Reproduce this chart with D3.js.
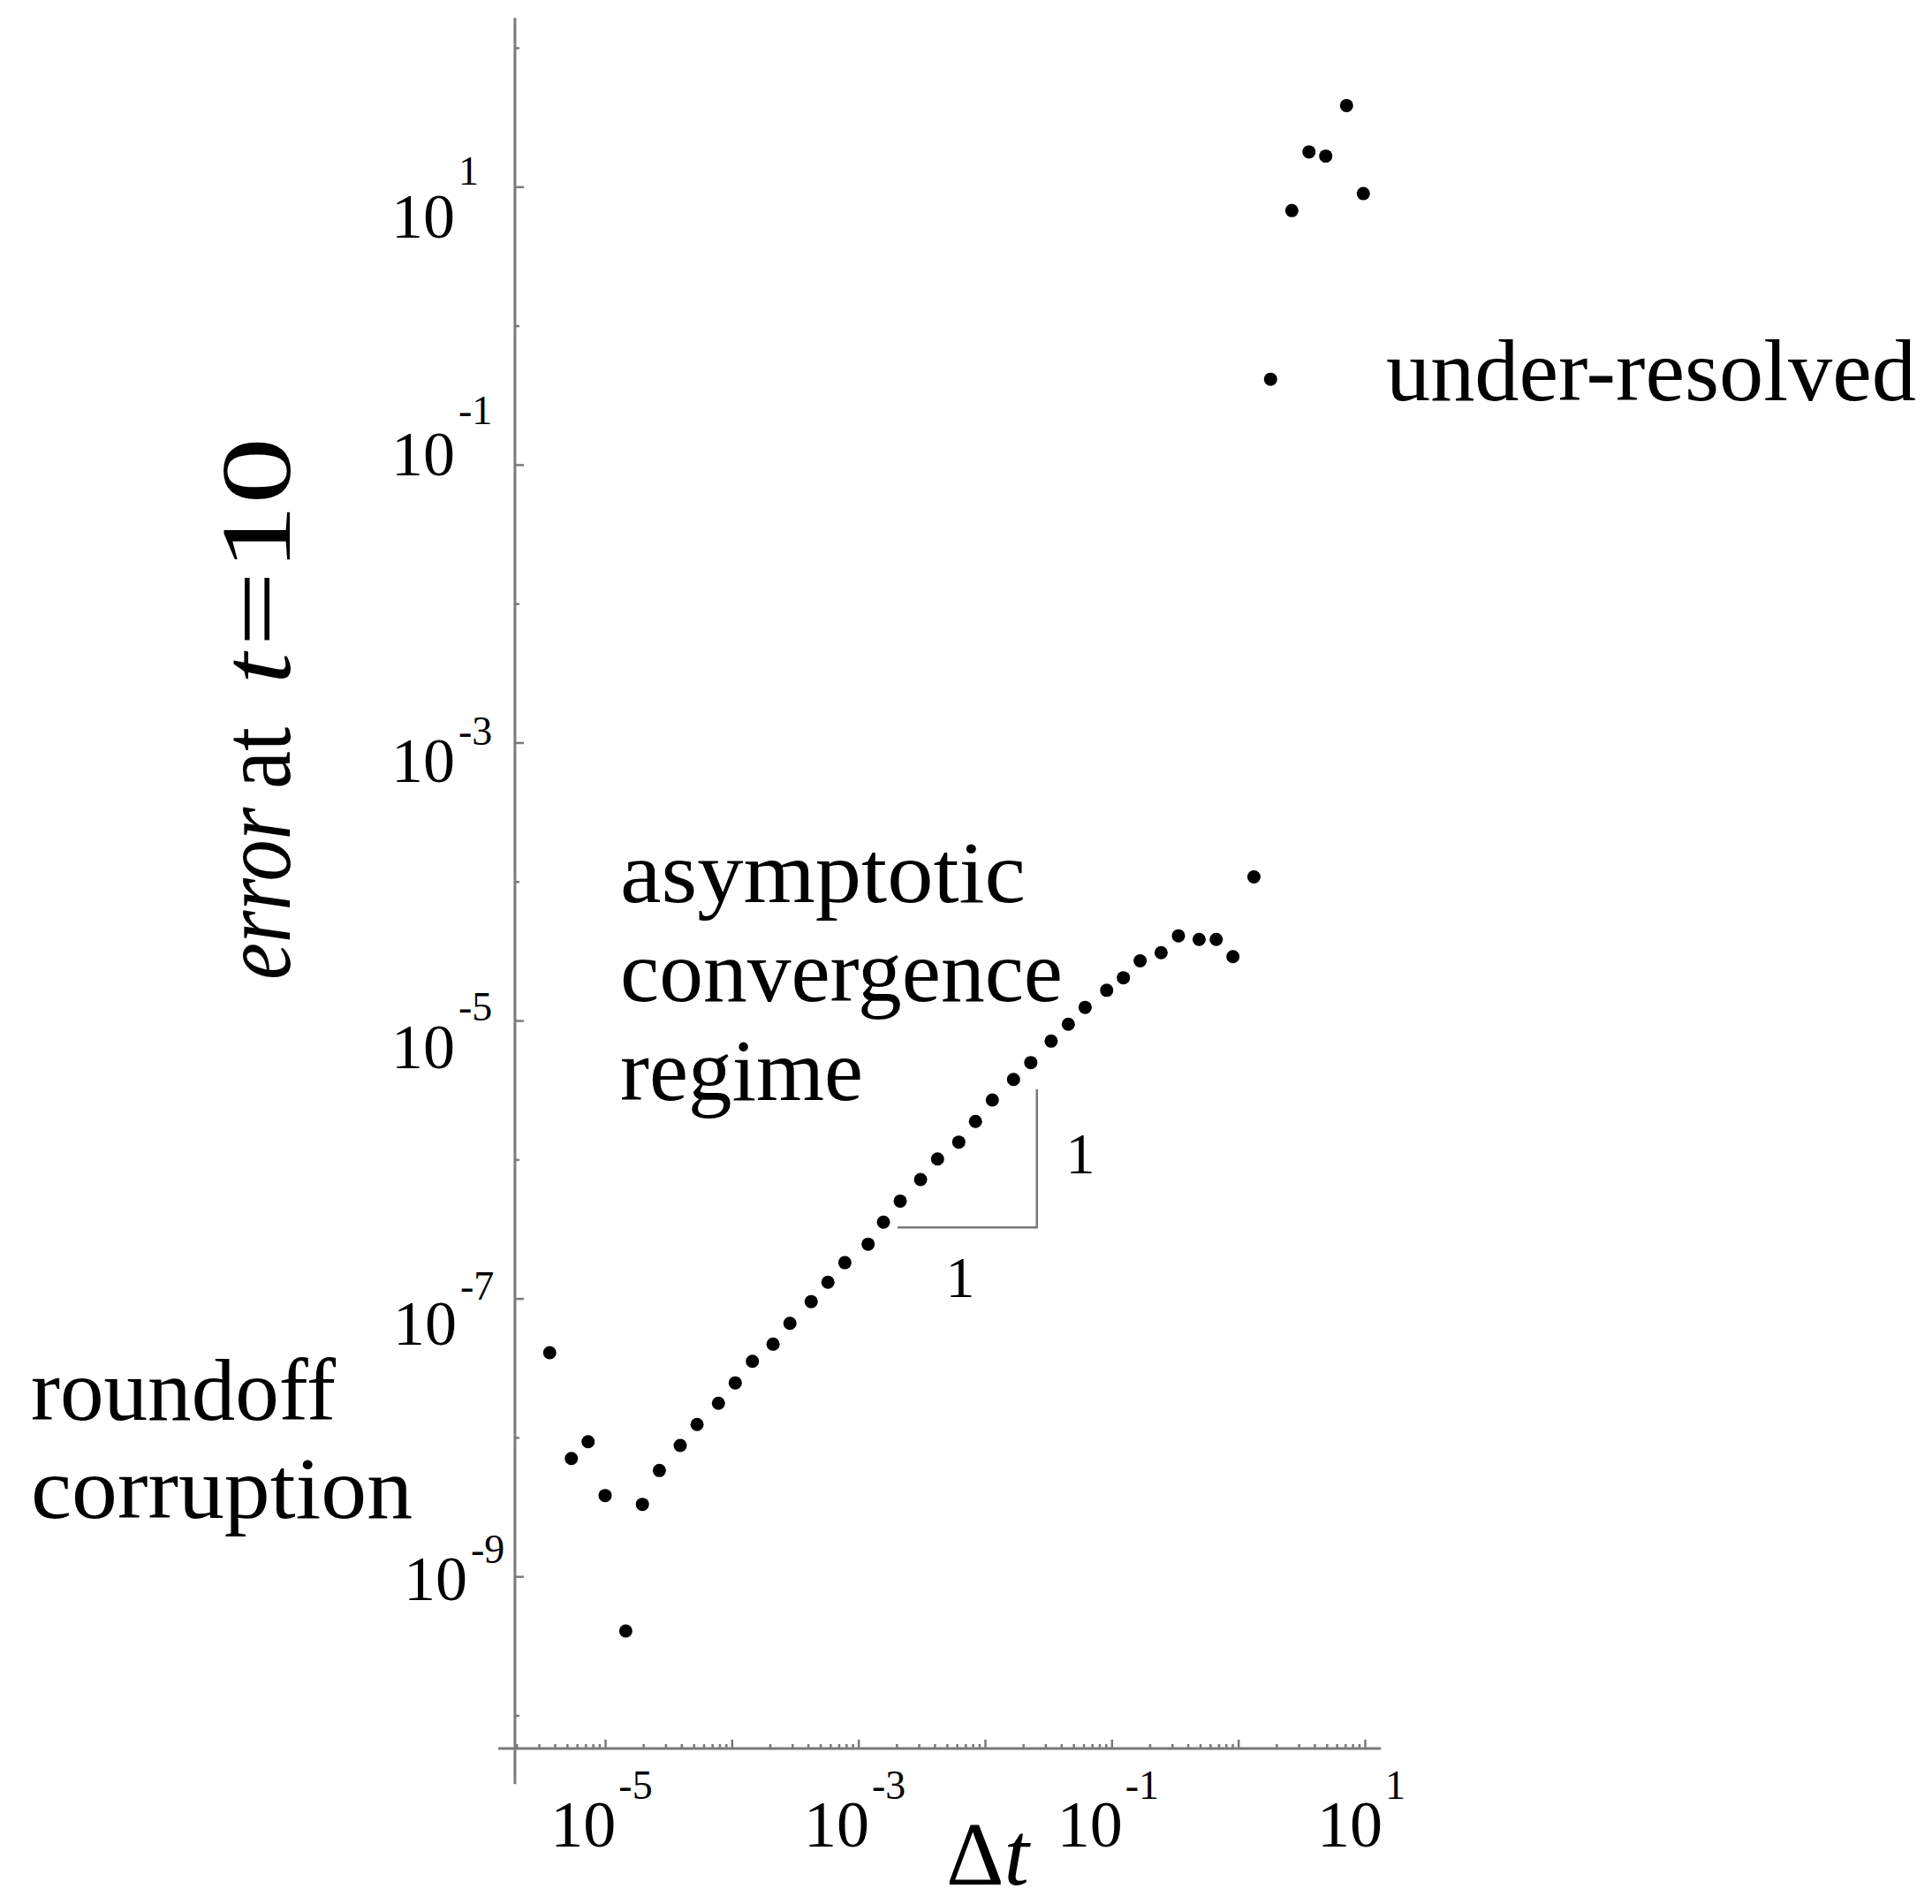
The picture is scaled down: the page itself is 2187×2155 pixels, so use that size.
<!DOCTYPE html>
<html><head><meta charset="utf-8">
<script src="https://cdn.jsdelivr.net/npm/d3@7"></script>
<style>html,body{margin:0;padding:0;background:#fff;} svg{display:block;}</style>
</head><body>
<svg id="chart" width="2187" height="2155"></svg>
<script>
// ---------------- data ----------------
const dtValues = [3.65e-6, 5.41e-6, 7.34e-6, 1.0e-5, 1.455e-5, 1.97e-5, 2.68e-5, 3.92e-5, 5.32e-5, 7.85e-5,
  1.066e-4, 1.456e-4, 2.12e-4, 2.88e-4, 4.24e-4, 5.75e-4, 7.82e-4, 1.194e-3, 1.578e-3, 2.14e-3,
  3.10e-3, 4.22e-3, 6.21e-3, 8.41e-3, 1.143e-2, 1.68e-2, 2.30e-2, 3.33e-2, 4.55e-2, 6.18e-2,
  9.14e-2, 0.1239, 0.168, 0.246, 0.337, 0.491, 0.670, 0.908, 1.33, 1.80,
  2.65, 3.62, 4.91, 7.17, 9.73];
const errorValues = [4.07e-8, 7.06e-9, 9.32e-9, 3.82e-9, 4.05e-10, 3.30e-9, 5.78e-9, 8.75e-9, 1.24e-8, 1.76e-8,
  2.47e-8, 3.53e-8, 4.69e-8, 6.62e-8, 9.50e-8, 1.31e-7, 1.81e-7, 2.46e-7, 3.54e-7, 5.02e-7,
  7.18e-7, 1.009e-6, 1.334e-6, 1.88e-6, 2.68e-6, 3.77e-6, 4.98e-6, 7.11e-6, 9.40e-6, 1.244e-5,
  1.65e-5, 2.03e-5, 2.69e-5, 3.08e-5, 4.07e-5, 3.83e-5, 3.83e-5, 2.88e-5, 1.08e-4, 0.412,
  6.73, 17.8, 16.6, 38.4, 8.92];
const xMajorTicks = [1e-5, 1e-4, 1e-3, 1e-2, 1e-1, 1, 10];
const xLabelExponents = [-5, -3, -1, 1];
const yMajorTicks = [10, 1e-1, 1e-3, 1e-5, 1e-7, 1e-9];
const yMinorTicks = [100, 1, 1e-2, 1e-4, 1e-6, 1e-8, 1e-10];
const yLabelExponents = [1, -1, -3, -5, -7, -9];
const xAxisExtent = [1.43e-6, 13.4];
const yAxisExtent = [3.2e-11, 164];
const axisOrigin = [1.94e-6, 5.78e-11];
const slopeTriangle = { x0: 2.04e-3, x1: 2.57e-2, y0: 3.24e-7, y1: 3.21e-6 };
const roundoffText = ["roundoff", "corruption"];
const asymptoticText = ["asymptotic", "convergence", "regime"];
const underText = ["under-resolved"];
const slopeLabels = ["1", "1"];
const yTitleParts = ["error", "at", "t", "=10"];

// ---------------- drawing ----------------
const svg = d3.select("#chart");
svg.append("rect").attr("width", 2187).attr("height", 2155).attr("fill", "#fff");
const FONT = "'Liberation Serif', 'DejaVu Serif', serif";
const GRAY = "#7a7a7a";

const x = d3.scaleLog().domain([1e-5, 10]).range([685, 1545]);
const y = d3.scaleLog().domain([1e-10, 100]).range([1941.5, 54]);

const xAxisY = y(axisOrigin[1]);
const yAxisX = x(axisOrigin[0]);

// axis lines
svg.append("line").attr("x1", x(xAxisExtent[0])).attr("x2", x(xAxisExtent[1]))
  .attr("y1", xAxisY).attr("y2", xAxisY).attr("stroke", GRAY).attr("stroke-width", 3);
svg.append("line").attr("x1", yAxisX).attr("x2", yAxisX)
  .attr("y1", y(yAxisExtent[1])).attr("y2", y(yAxisExtent[0])).attr("stroke", GRAY).attr("stroke-width", 3);

// x ticks
const xMinor = [];
for (let k = -6; k <= 1; k++) for (let m = 2; m <= 9; m++) {
  const v = m * Math.pow(10, k);
  if (v > axisOrigin[0] * 1.01 && v < xAxisExtent[1]) xMinor.push(v);
}
function styleAxis(g) {
  g.select(".domain").remove();
  g.attr("color", GRAY);
  g.selectAll(".tick line").attr("stroke-width", 2.5);
}
svg.append("g").attr("transform", `translate(0,${xAxisY})`)
  .call(d3.axisBottom(x).tickValues(xMajorTicks).tickSize(-10).tickFormat("")).call(styleAxis);
svg.append("g").attr("transform", `translate(0,${xAxisY})`)
  .call(d3.axisBottom(x).tickValues(xMinor).tickSize(-5).tickFormat("")).call(styleAxis);
// y ticks
svg.append("g").attr("transform", `translate(${yAxisX},0)`)
  .call(d3.axisRight(y).tickValues(yMajorTicks).tickSize(10).tickFormat("")).call(styleAxis);
svg.append("g").attr("transform", `translate(${yAxisX},0)`)
  .call(d3.axisRight(y).tickValues(yMinorTicks).tickSize(5).tickFormat("")).call(styleAxis);

// x tick labels
const xl = svg.append("g").attr("font-family", FONT).attr("fill", "#000");
xLabelExponents.forEach(e => {
  const t = xl.append("text").attr("x", x(Math.pow(10, e)) - 4).attr("y", 2090)
    .attr("text-anchor", "middle");
  t.append("tspan").attr("font-size", 74).text("10");
  t.append("tspan").attr("font-size", 46).attr("dy", -54).attr("dx", 3).text(e < 0 ? "-" + (-e) : String(e));
});

// y tick labels (Mathematica-style jittered placement)
const yLabelLayout = { "1": [0, 58, -60], "-1": [0, 12, -58], "-3": [0, 45, -42], "-5": [0, 54, -54], "-7": [2, 52, -51], "-9": [14, 27, -42] };
const yl = svg.append("g").attr("font-family", FONT).attr("fill", "#000");
yLabelExponents.forEach(e => {
  const lay = yLabelLayout[String(e)];
  const t = yl.append("text").attr("x", 443 + lay[0]).attr("y", y(Math.pow(10, e)) + lay[1]);
  t.append("tspan").attr("font-size", 72).text("10");
  t.append("tspan").attr("font-size", 46).attr("dy", lay[2]).attr("dx", 4).text(e < 0 ? "-" + (-e) : String(e));
});

// data points
svg.append("g").selectAll("circle").data(dtValues.map((d, i) => [d, errorValues[i]]))
  .join("circle").attr("cx", d => x(d[0])).attr("cy", d => y(d[1])).attr("r", 7.5).attr("fill", "#000");

// slope triangle
svg.append("path")
  .attr("d", `M${x(slopeTriangle.x0)},${y(slopeTriangle.y0)}H${x(slopeTriangle.x1)}V${y(slopeTriangle.y1)}`)
  .attr("fill", "none").attr("stroke", GRAY).attr("stroke-width", 2.5);
svg.append("text").attr("font-family", FONT).attr("font-size", 66).attr("text-anchor", "middle")
  .attr("x", 1087).attr("y", 1468).text(slopeLabels[0]);
svg.append("text").attr("font-family", FONT).attr("font-size", 66).attr("text-anchor", "middle")
  .attr("x", 1223).attr("y", 1328).text(slopeLabels[1]);

// annotations (widths matched to the reference typesetting)
function block(lines, widths, x0, y0, dy) {
  lines.forEach((s, i) => svg.append("text").attr("font-family", FONT).attr("font-size", 99)
    .attr("x", x0).attr("y", y0 + i * dy).attr("fill", "#000")
    .attr("textLength", widths[i]).attr("lengthAdjust", "spacingAndGlyphs").text(s));
}
block(roundoffText, [345, 432], 35, 1607, 111);
block(asymptoticText, [459, 501, 275], 702, 1021, 112);
block(underText, [600], 1569, 453, 0);

// axis titles
const xt = svg.append("text").attr("font-family", FONT).attr("font-size", 102).attr("x", 1071).attr("y", 2133);
xt.append("tspan").text("\u0394");
xt.append("tspan").attr("font-style", "italic").text("t");

// y title: pieces placed along the rotated baseline [start, length] in page-y
const yTitleLayout = [[1109, 195, "italic"], [893, 70, "normal"], [774, 35, "normal-italic"], [732, 237, "normal"]];
yTitleParts.forEach((s, i) => {
  const [start, len, st] = yTitleLayout[i];
  svg.append("text").attr("font-family", FONT).attr("font-size", 112)
    .attr("font-style", st.endsWith("italic") ? "italic" : "normal")
    .attr("transform", `translate(328,${start}) rotate(-90)`)
    .attr("textLength", len).attr("lengthAdjust", "spacingAndGlyphs").text(s);
});
</script>
</body></html>
